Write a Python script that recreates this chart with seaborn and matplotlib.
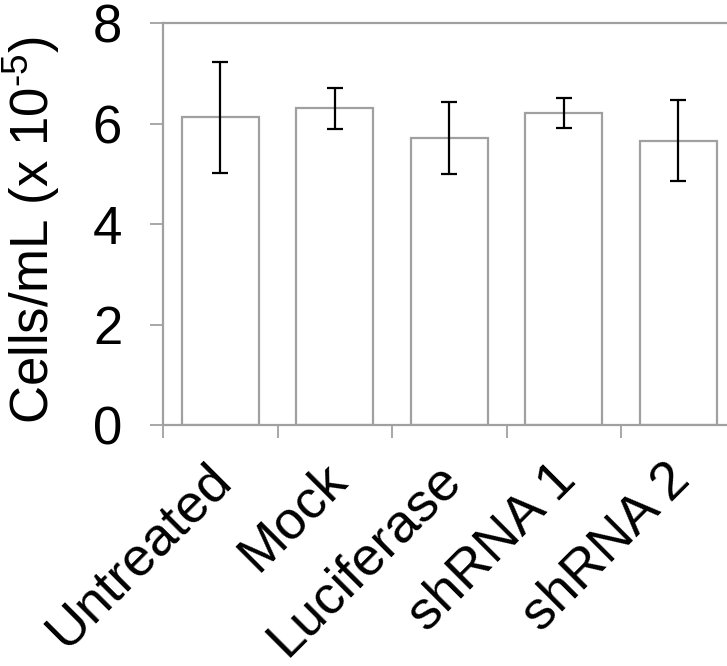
import matplotlib
matplotlib.use("Agg")
import matplotlib.pyplot as plt
import matplotlib.transforms as mtransforms
from matplotlib.ticker import FixedLocator
import seaborn as sns
import pandas as pd

categories = ["Untreated", "Mock", "Luciferase", "shRNA 1", "shRNA 2"]
means = [6.12, 6.30, 5.71, 6.21, 5.66]
errors = [1.10, 0.41, 0.71, 0.30, 0.80]
y_ticks = [0, 2, 4, 6, 8]

sns.set_theme(style="white")
plt.rcParams["font.family"] = ["Liberation Sans", "DejaVu Sans"]
plt.rcParams["mathtext.fontset"] = "custom"
plt.rcParams["mathtext.rm"] = "Liberation Sans"
plt.rcParams["mathtext.default"] = "regular"
plt.rcParams["text.color"] = "black"
plt.rcParams["axes.labelcolor"] = "black"
plt.rcParams["xtick.labelcolor"] = "black"
plt.rcParams["ytick.labelcolor"] = "black"

df = pd.DataFrame({"cat": categories, "val": means})

fig = plt.figure(figsize=(7.27, 6.66), dpi=100)
ax = fig.add_axes([163 / 727, 241 / 666, 572.5 / 727, 402 / 666])

gray = "#a0a0a0"
sns.barplot(data=df, x="cat", y="val", errorbar=None, color="white",
            edgecolor=gray, linewidth=1.6, width=0.67, ax=ax, saturation=1)
for p in ax.patches:
    p.set_facecolor("white")
ax.errorbar(range(len(categories)), means, yerr=errors, fmt="none",
            ecolor="black", elinewidth=1.6, capsize=5.8, capthick=1.6, zorder=5)

ax.set_xlim(-0.5, 4.5)
ax.set_ylim(0, 8)
ax.set_yticks(y_ticks)
ax.set_yticklabels([str(t) for t in y_ticks], fontsize=38, color="black")
ax.tick_params(axis="y", length=9.4, width=1.3, color=gray, labelcolor="black",
               pad=20, left=True)

# category ticks at boundaries
ax.xaxis.set_minor_locator(FixedLocator([-0.5, 0.5, 1.5, 2.5, 3.5, 4.5]))
ax.tick_params(axis="x", which="minor", length=9.4, width=1.3, color=gray, bottom=True)
ax.tick_params(axis="x", which="major", length=0, pad=0, labelcolor="black")
ax.set_xticks(range(len(categories)))
ax.set_xticklabels(categories, fontsize=39, rotation=45, ha="right", va="top",
                   rotation_mode="anchor", color="black")
offset = mtransforms.ScaledTranslation(-14 / 100, -29 / 100, fig.dpi_scale_trans)
for lab in ax.get_xticklabels():
    lab.set_transform(lab.get_transform() + offset)

ax.set_xlabel("")
ax.set_ylabel("Cells/mL (x 10$^{\\text{-5}}$)", fontsize=38, color="black")
ax.yaxis.set_label_coords((62 - 163) / 572.5, 0.485)

for side in ["left", "bottom", "top"]:
    ax.spines[side].set_color(gray)
    ax.spines[side].set_linewidth(1.6)
    ax.spines[side].set_visible(True)
ax.spines["right"].set_visible(False)

fig.savefig("out.png", dpi=100)
